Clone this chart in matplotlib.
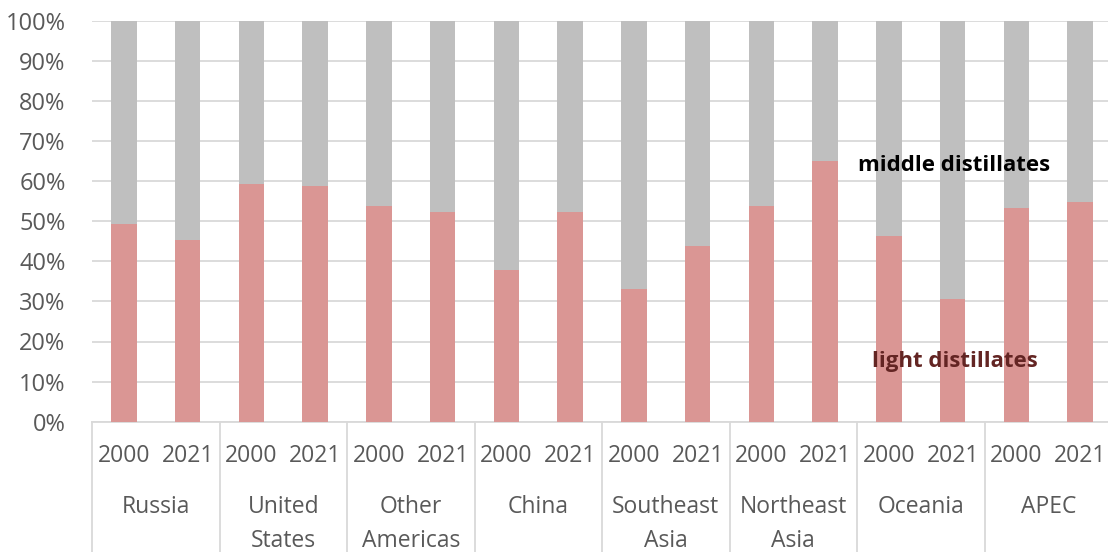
import matplotlib
matplotlib.use("Agg")
import matplotlib.pyplot as plt
import matplotlib.transforms as mtransforms
from matplotlib.lines import Line2D

plt.rcParams["font.family"] = ["Open Sans", "DejaVu Sans"]

# shares of refinery output, percent
regions = ["Russia", "United\nStates", "Other\nAmericas", "China",
           "Southeast\nAsia", "Northeast\nAsia", "Oceania", "APEC"]
years = ["2000", "2021"]
light = [49.2, 45.2, 59.4, 58.9, 53.9, 52.2, 37.9, 52.2,
         33.2, 43.7, 53.7, 65.1, 46.2, 30.7, 53.2, 54.7]
middle = [50.8, 54.8, 40.6, 41.1, 46.1, 47.8, 62.1, 47.8,
          66.8, 56.3, 46.3, 34.9, 53.8, 69.3, 46.8, 45.3]

LIGHT_COLOR = "#DA9694"
MIDDLE_COLOR = "#BFBFBF"
GRID_COLOR = "#D9D9D9"
TEXT_COLOR = "#595959"

W, H = 1108, 552
fig = plt.figure(figsize=(W / 100, H / 100), dpi=100)
ax_left, ax_right, ax_top, ax_bottom = 92, 1112, 20.7, 421.7
ax = fig.add_axes([ax_left / W, 1 - ax_bottom / H,
                   (ax_right - ax_left) / W, (ax_bottom - ax_top) / H])

n = len(light)
xs = [i + 0.5 for i in range(n)]
ax.bar(xs, light, width=0.4, color=LIGHT_COLOR, zorder=3)
ax.bar(xs, middle, width=0.4, bottom=light, color=MIDDLE_COLOR, zorder=3)

ax.set_xlim(0, n)
ax.set_ylim(0, 100)
ax.set_yticks(range(0, 101, 10))
ax.set_yticklabels([f"{v}%" for v in range(0, 101, 10)])
ax.tick_params(axis="y", length=0, pad=19, labelsize=17, labelcolor=TEXT_COLOR)
ax.set_xticks([])
ax.grid(axis="y", color=GRID_COLOR, linewidth=1.3, zorder=0)
for side in ["top", "right", "left"]:
    ax.spines[side].set_visible(False)
ax.spines["bottom"].set_color(GRID_COLOR)
ax.spines["bottom"].set_linewidth(1.3)

# two-level category axis below the plot
ax_h = ax_bottom - ax_top
trans = mtransforms.blended_transform_factory(ax.transData, ax.transAxes)
for i, x in enumerate(xs):
    ax.text(x, -(456 - ax_bottom) / ax_h, years[i % 2], transform=trans,
            ha="center", va="center", fontsize=16.5, color=TEXT_COLOR)
for g, name in enumerate(regions):
    ax.text(2 * g + 1, -(495 - ax_bottom) / ax_h, name, transform=trans,
            ha="center", va="top", fontsize=16.5, color=TEXT_COLOR,
            linespacing=1.55)
for g in range(len(regions) + 1):
    ax.add_line(Line2D([2 * g, 2 * g], [0, -(H - ax_bottom + 5) / ax_h],
                       transform=trans, color=GRID_COLOR, linewidth=1.3,
                       clip_on=False))

# series labels
ax.text(13.53, 64.0, "middle distillates", ha="center", va="center",
        fontsize=16, fontweight="bold", color="black", zorder=5)
ax.text(13.53, 14.9, "light distillates", ha="center", va="center",
        fontsize=16, fontweight="bold", color="#632523", zorder=5)

fig.savefig("out.png", dpi=100)
